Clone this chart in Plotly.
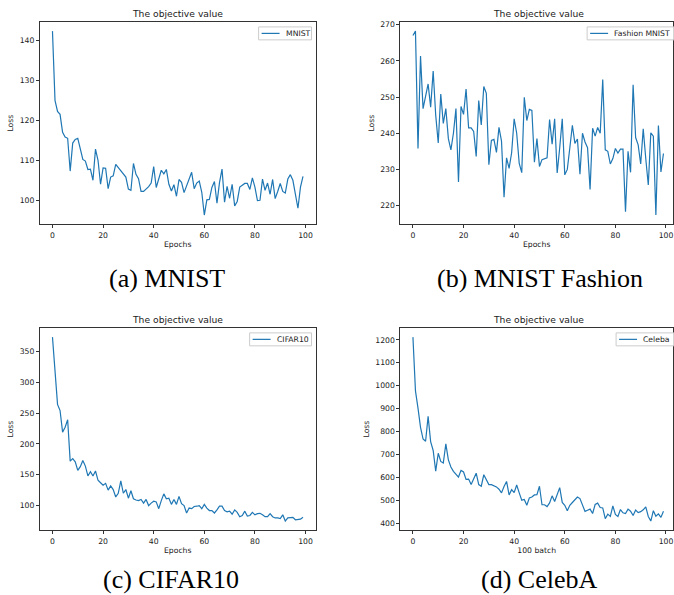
import plotly.graph_objects as go

# ---------------- data ----------------
epochs = list(range(100))

mnist = [142.3, 125.0, 122.2, 121.5, 117.0, 115.8, 115.5, 107.3, 114.3, 115.2,
         115.5, 112.5, 110.2, 109.8, 107.7, 107.8, 105.0, 112.8, 110.0, 104.0,
         108.1, 108.0, 102.9, 105.8, 106.1, 109.0, 108.2, 107.6, 106.8, 105.8,
         102.8, 102.5, 109.2, 106.5, 105.4, 102.2, 102.2, 102.7, 103.4, 104.3,
         108.4, 103.2, 105.6, 107.5, 106.6, 107.7, 104.0, 102.3, 103.9, 101.0,
         105.2, 104.5, 101.9, 103.6, 105.6, 107.0, 102.9, 104.3, 104.8, 102.0,
         96.3, 100.1, 100.2, 103.2, 104.7, 99.3, 104.4, 107.8, 99.5, 103.5,
         100.5, 104.0, 98.6, 99.7, 103.3, 103.7, 104.2, 104.2, 102.7, 105.6,
         103.3, 99.9, 100.0, 105.3, 102.5, 104.3, 101.5, 105.2, 100.4, 102.2,
         104.2, 102.2, 101.8, 105.3, 106.4, 105.0, 101.5, 98.0, 103.3, 106.0]

fashion = [267.0, 268.2, 235.8, 261.3, 246.8, 250.0, 253.6, 247.2, 257.2, 245.0,
           237.3, 250.8, 242.7, 246.8, 238.5, 235.4, 240.0, 246.8, 226.5, 247.4,
           245.2, 252.2, 241.5, 241.5, 240.5, 233.6, 249.0, 242.3, 252.9, 251.0,
           231.3, 238.0, 238.3, 234.7, 241.6, 237.8, 222.3, 233.2, 230.3, 234.6,
           244.0, 240.0, 231.7, 229.1, 249.9, 243.5, 246.6, 246.3, 232.0, 238.5,
           230.8, 232.7, 233.0, 233.2, 243.8, 237.0, 244.0, 229.0, 236.0, 244.0,
           228.5, 230.0, 236.0, 242.2, 237.2, 238.4, 228.7, 240.0, 237.6, 236.0,
           224.5, 241.4, 239.2, 241.6, 240.0, 254.8, 235.4, 235.0, 231.5, 233.0,
           235.8, 234.5, 235.6, 235.6, 218.3, 235.0, 229.2, 253.4, 238.8, 236.8,
           231.5, 241.2, 233.0, 225.7, 240.1, 239.2, 217.4, 242.1, 229.3, 234.4]

cifar10 = [373, 322, 264, 254, 219, 227, 239, 172, 176, 171,
           157, 163, 173, 164, 148, 155, 148, 156, 141, 137,
           133, 136, 125, 132, 126, 114, 120, 140, 120, 126,
           112, 124, 111, 109, 108, 110, 104, 110, 100, 104,
           107, 106, 95, 108, 119, 111, 112, 102, 110, 102,
           115, 103, 100, 88, 96, 95, 98.5, 99, 100, 95,
           102, 96, 92, 92, 88, 93, 99, 99, 92, 90,
           91, 86, 93, 89, 82, 84, 91, 83, 84, 89,
           85, 87, 87.5, 85, 82, 82, 87, 82, 80, 80,
           79, 85, 75, 80, 81, 81, 77, 78, 78, 81]

celeba = [1212, 977, 902, 818, 767, 757, 866, 756, 717, 627,
          705, 669, 662, 746, 676, 645, 626, 614, 601, 630,
          623, 591, 592, 568, 594, 618, 568, 561, 611, 587,
          568, 568, 562, 558, 548, 532, 560, 582, 523, 546,
          533, 566, 532, 500, 503, 478, 510, 514, 523, 524,
          561, 480, 480, 472, 488, 519, 494, 526, 555, 490,
          478, 454, 478, 490, 500, 514, 507, 475, 451, 456,
          461, 442, 481, 487, 468, 466, 419, 439, 429, 475,
          438, 429, 459, 445, 442, 461, 452, 433, 457, 446,
          450, 458, 471, 429, 409, 454, 430, 440, 425, 452]

series_names = ["MNIST", "Fashion MNIST", "CIFAR10", "Celeba"]
x_labels = ["Epochs", "Epochs", "Epochs", "100 batch"]
captions = ["(a) MNIST", "(b) MNIST Fashion", "(c) CIFAR10", "(d) CelebA"]
y_ticks = [[100, 110, 120, 130, 140],
           [220, 230, 240, 250, 260, 270],
           [100, 150, 200, 250, 300, 350],
           [400, 500, 600, 700, 800, 900, 1000, 1100, 1200]]
x_ticks = [0, 20, 40, 60, 80, 100]
all_series = [mnist, fashion, cifar10, celeba]

# ---------------- layout helpers ----------------
W, H = 674, 595
def px(x):
    return x / W
def py(y):
    return 1 - y / H

LINE_COLOR = "#1f77b4"
SPINE = "#333333"
TXT = "#222222"
FONT = "DejaVu Sans"
TICK_FS = 7.7

# axes boxes in pixels: (left, right, top, bottom)
boxes = [(40, 316, 20, 223), (401, 674, 20, 223),
         (40, 316, 327, 530), (401, 674, 327, 530)]
full_w = 276.0
cap_pos = [(167, 277), (541, 277), (171, 579), (540, 579)]

fig = go.Figure()
shapes = []
annotations = []

for i, (name, ys) in enumerate(zip(series_names, all_series)):
    sfx = "" if i == 0 else str(i + 1)
    xa, ya = "x" + sfx, "y" + sfx
    fig.add_trace(go.Scatter(x=epochs, y=ys, mode="lines", name=name,
                             line=dict(color=LINE_COLOR, width=1.2),
                             xaxis=xa, yaxis=ya, showlegend=False,
                             hoverinfo="x+y"))
    l, r, t, b = boxes[i]
    # matplotlib-like auto limits (5% margins)
    x0, x1 = min(epochs), max(epochs)
    xm = 0.05 * (x1 - x0)
    xr0, xr1 = x0 - xm, x1 + xm
    if (r - l) < full_w:
        xr1 = xr0 + (xr1 - xr0) * (r - l) / full_w
    y0, y1 = min(ys), max(ys)
    ymg = 0.05 * (y1 - y0)
    axis_common = dict(showline=True, mirror=True, linecolor=SPINE, linewidth=1.1,
                       ticks="outside", ticklen=3, tickwidth=0.8, tickcolor=SPINE,
                       showgrid=False, zeroline=False,
                       tickfont=dict(family=FONT, size=TICK_FS, color=TXT))
    fig.update_layout({
        ("xaxis" + sfx): dict(axis_common, domain=[px(l), px(r)], range=[xr0, xr1],
                              tickvals=x_ticks, anchor=ya,
                              title=dict(text=x_labels[i], standoff=3,
                                         font=dict(family=FONT, size=TICK_FS, color=TXT))),
        ("yaxis" + sfx): dict(axis_common, domain=[py(b), py(t)], range=[y0 - ymg, y1 + ymg],
                              tickvals=y_ticks[i], anchor=xa,
                              title=dict(text="Loss", standoff=4,
                                         font=dict(family=FONT, size=TICK_FS, color=TXT))),
    })
    # subplot title
    cx = (l + l + full_w) / 2
    annotations.append(dict(text="The objective value", x=px(cx), y=py(t - 8),
                            xref="paper", yref="paper", showarrow=False,
                            xanchor="center", yanchor="middle",
                            font=dict(family=FONT, size=9.2, color=TXT)))
    # legend (matplotlib style, upper right)
    tw = {"MNIST": 24, "Fashion MNIST": 56, "CIFAR10": 33, "Celeba": 27}[name]
    box_r = l + full_w - 4
    box_l = box_r - (2 + 18 + 5 + tw + 4)
    if (r - l) < full_w:
        box_r = r + 3  # legend frame runs past the cropped edge
    box_t, box_b = t + 5, t + 18
    shapes.append(dict(type="rect", xref="paper", yref="paper",
                       x0=px(box_l), x1=px(box_r), y0=py(box_b), y1=py(box_t),
                       line=dict(color="#cccccc", width=1), fillcolor="rgba(255,255,255,0.8)",
                       layer="above"))
    ymid = (box_t + box_b) / 2
    shapes.append(dict(type="line", xref="paper", yref="paper",
                       x0=px(box_l + 3), x1=px(box_l + 21), y0=py(ymid), y1=py(ymid),
                       line=dict(color=LINE_COLOR, width=1.2), layer="above"))
    annotations.append(dict(text=name, x=px(box_l + 25), y=py(ymid),
                            xref="paper", yref="paper", showarrow=False,
                            xanchor="left", yanchor="middle",
                            font=dict(family=FONT, size=TICK_FS, color=TXT)))
    # caption
    annotations.append(dict(text=captions[i], x=px(cap_pos[i][0]), y=py(cap_pos[i][1]),
                            xref="paper", yref="paper", showarrow=False,
                            xanchor="center", yanchor="middle",
                            font=dict(family="Liberation Serif", size=26, color="black")))

fig.update_layout(width=W, height=H, margin=dict(l=0, r=0, t=0, b=0),
                  paper_bgcolor="white", plot_bgcolor="white",
                  shapes=shapes, annotations=annotations, showlegend=False)

fig.write_html("out.html")
